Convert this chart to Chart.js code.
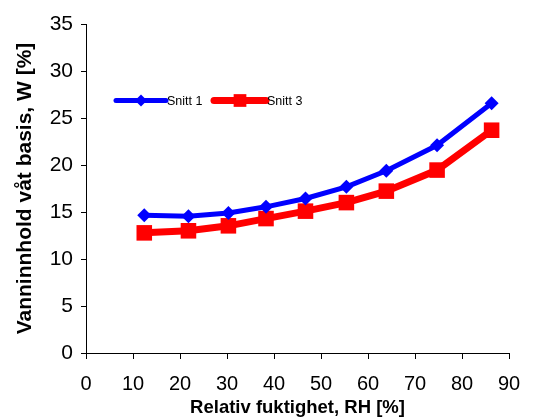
<!DOCTYPE html>
<html><head><meta charset="utf-8">
<script src="https://cdn.jsdelivr.net/npm/chart.js@4"></script>
<style>html,body{margin:0;padding:0;background:#fff}#wrap{width:538px;height:419px}</style>
</head><body><div id="wrap"><canvas id="c" width="538" height="419"></canvas></div>
<script>
const rh = [12.4, 21.8, 30.3, 38.3, 46.7, 55.4, 63.9, 74.7, 86.3];
const snitt1 = [14.66, 14.56, 14.9, 15.55, 16.44, 17.68, 19.38, 22.1, 26.56];
const snitt3 = [12.78, 13.0, 13.53, 14.3, 15.09, 16.0, 17.22, 19.46, 23.7];
const seriesNames = ['Snitt 1', 'Snitt 3'];
const xTitle = 'Relativ fuktighet, RH [%]';
const yTitle = 'Vanninnhold våt basis, W [%]';

const FONT = "'Liberation Sans', Arial, sans-serif";
const pts = (ys) => rh.map((x, i) => ({x, y: ys[i]}));

const insideLegend = {
  id: 'insideLegend',
  afterDatasetsDraw(chart, args, opts) {
    const ctx = chart.ctx;
    ctx.save();
    chart.data.datasets.forEach((ds, i) => {
      const it = opts.items[i];
      ctx.strokeStyle = ds.borderColor;
      ctx.lineWidth = ds.borderWidth;
      ctx.lineCap = 'round';
      ctx.beginPath();
      ctx.moveTo(it.x0, opts.y);
      ctx.lineTo(it.x1, opts.y);
      ctx.stroke();
      ctx.fillStyle = ds.pointBackgroundColor;
      Chart.helpers.drawPoint(ctx, {pointStyle: ds.pointStyle, radius: it.r, borderWidth: 0}, (it.x0 + it.x1) / 2, opts.y);
      ctx.fillStyle = '#000';
      ctx.font = '12.5px ' + FONT;
      ctx.textBaseline = 'middle';
      ctx.textAlign = 'left';
      ctx.fillText(ds.label, it.x1 + 1, opts.y + 1);
    });
    ctx.restore();
  }
};

new Chart(document.getElementById('c'), {
  type: 'line',
  data: {
    datasets: [
      {label: seriesNames[0], data: pts(snitt1), borderColor: '#0000FF', backgroundColor: '#0000FF',
       pointBackgroundColor: '#0000FF', pointBorderColor: '#0000FF', borderWidth: 5,
       pointStyle: 'rectRot', pointRadius: 7, pointBorderWidth: 0, tension: 0},
      {label: seriesNames[1], data: pts(snitt3), borderColor: '#FF0000', backgroundColor: '#FF0000',
       pointBackgroundColor: '#FF0000', pointBorderColor: '#FF0000', borderWidth: 7,
       pointStyle: 'rect', pointRadius: 11, pointBorderWidth: 0, tension: 0}
    ]
  },
  options: {
    responsive: false, animation: false, devicePixelRatio: 1,
    layout: {padding: {left: 10, top: 24, right: 29, bottom: 0}},
    plugins: {
      legend: {display: false}, tooltip: {enabled: false},
      insideLegend: {y: 100.5, items: [{x0: 116, x1: 166, r: 6}, {x0: 214, x1: 266, r: 9}]}
    },
    scales: {
      x: {
        type: 'linear', min: 0, max: 90,
        ticks: {stepSize: 10, color: '#000', font: {family: FONT, size: 20}, padding: 13, maxRotation: 0},
        grid: {display: true, drawOnChartArea: false, tickLength: 6, color: '#000', lineWidth: 1},
        border: {color: '#000', width: 1},
        title: {display: true, text: xTitle, color: '#000', font: {family: FONT, size: 18.5, weight: 'bold'}, padding: {top: 0, bottom: 0}},
        afterFit: s => { s.height = 66; }
      },
      y: {
        min: 0, max: 35,
        ticks: {stepSize: 5, color: '#000', font: {family: FONT, size: 21}, padding: 8},
        grid: {display: true, drawOnChartArea: false, tickLength: 5, color: '#000', lineWidth: 1},
        border: {color: '#000', width: 1},
        title: {display: true, text: yTitle, color: '#000', font: {family: FONT, size: 21, weight: 'bold'}, padding: {top: 3, bottom: 0}},
        afterFit: s => { s.width = 76; }
      }
    }
  },
  plugins: [insideLegend]
});
</script></body></html>
